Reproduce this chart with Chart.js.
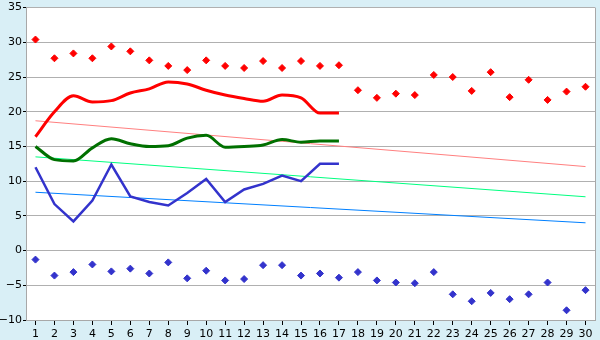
<!DOCTYPE html>
<html><head><meta charset="utf-8">
<script src="https://cdn.jsdelivr.net/npm/chart.js@4"></script>
<style>html,body{margin:0;padding:0;background:#d9eff6;}#c{display:block;}</style>
</head><body>
<canvas id="c" width="600" height="340"></canvas>
<script>
const days = ['1','2','3','4','5','6','7','8','9','10','11','12','13','14','15','16','17','18','19','20','21','22','23','24','25','26','27','28','29','30'];
const maxTemps = [30.4, 27.7, 28.4, 27.7, 29.4, 28.7, 27.4, 26.6, 26.0, 27.4, 26.6, 26.3, 27.3, 26.3, 27.3, 26.6, 26.7, 23.1, 22.0, 22.6, 22.4, 25.3, 25.0, 23.0, 25.7, 22.1, 24.6, 21.7, 22.9, 23.6];
const minTemps = [-1.3, -3.6, -3.1, -2.0, -3.0, -2.6, -3.3, -1.7, -4.0, -2.9, -4.3, -4.1, -2.1, -2.1, -3.6, -3.3, -3.9, -3.1, -4.3, -4.6, -4.7, -3.1, -6.3, -7.3, -6.1, -7.0, -6.3, -4.6, -8.6, -5.7];
const lineMax = [16.4, 20.0, 22.3, 21.4, 21.6, 22.7, 23.3, 24.3, 24.0, 23.1, 22.4, 21.9, 21.5, 22.4, 22.0, 19.8, 19.8];
const lineMean = [15.0, 13.1, 12.9, 14.8, 16.1, 15.4, 15.0, 15.1, 16.2, 16.6, 14.9, 15.0, 15.2, 16.0, 15.6, 15.8, 15.8];
const lineMin = [12.0, 6.7, 4.2, 7.2, 12.4, 7.8, 7.0, 6.5, 8.3, 10.3, 7.0, 8.8, 9.6, 10.8, 10.0, 12.5, 12.5];
const trendMax = [18.7, 12.1];
const trendMean = [13.5, 7.75];
const trendMin = [8.4, 4.0];
const yMin = -10, yMax = 35, yStep = 5;

const font = {family: 'DejaVu Sans', size: 11};

const bgPlugin = {
  id: 'bg',
  beforeDraw(chart) {
    const a = chart.chartArea, ctx = chart.ctx;
    ctx.save();
    ctx.fillStyle = '#ffffff';
    ctx.fillRect(a.left, a.top, a.right - a.left, a.bottom - a.top);
    ctx.restore();
  },
  afterDraw(chart) {
    const a = chart.chartArea, ctx = chart.ctx;
    ctx.save();
    ctx.strokeStyle = '#a8a8a8';
    ctx.lineWidth = 1;
    ctx.beginPath();
    ctx.moveTo(a.right + 0.5, a.top);
    ctx.lineTo(a.right + 0.5, a.bottom);
    ctx.stroke();
    ctx.restore();
  }
};

function trend(vals) {
  return [{x: days[0], y: vals[0]}, {x: days[days.length - 1], y: vals[1]}];
}

new Chart(document.getElementById('c'), {
  type: 'line',
  data: {
    labels: days,
    datasets: [
      {data: lineMax, borderColor: '#ff0000', borderWidth: 3, pointRadius: 0, cubicInterpolationMode: 'monotone', fill: false},
      {data: lineMean, borderColor: '#007000', borderWidth: 3, pointRadius: 0, cubicInterpolationMode: 'monotone', fill: false},
      {data: lineMin, borderColor: '#3333cc', borderWidth: 2.5, pointRadius: 0, tension: 0, fill: false},
      {data: maxTemps, showLine: false, pointStyle: 'rectRot', pointRadius: 3.5, backgroundColor: '#ff0000', borderColor: '#ff0000', borderWidth: 1},
      {data: minTemps, showLine: false, pointStyle: 'rectRot', pointRadius: 3.5, backgroundColor: '#3333cc', borderColor: '#3333cc', borderWidth: 1},
      {data: trend(trendMax), borderColor: '#ff8080', borderWidth: 1, pointRadius: 0, tension: 0},
      {data: trend(trendMean), borderColor: '#00ff80', borderWidth: 1, pointRadius: 0, tension: 0},
      {data: trend(trendMin), borderColor: '#0080ff', borderWidth: 1, pointRadius: 0, tension: 0}
    ]
  },
  options: {
    responsive: false,
    devicePixelRatio: 1,
    animation: false,
    layout: {padding: {top: 5, right: 5, left: 0, bottom: 0}},
    plugins: {legend: {display: false}, tooltip: {enabled: false}},
    scales: {
      x: {
        type: 'category',
        offset: true,
        grid: {drawOnChartArea: false, drawTicks: true, tickLength: 5, tickColor: '#000000'},
        border: {color: '#a8a8a8'},
        ticks: {color: '#000000', font: font, padding: 3, maxRotation: 0, autoSkip: false},
        afterFit(s) { s.height = 20; }
      },
      y: {
        min: yMin, max: yMax,
        grid: {color: '#b0b0b0', tickLength: 3, tickColor: '#000000'},
        border: {color: '#a8a8a8'},
        ticks: {stepSize: yStep, color: '#000000', font: font, padding: 1,
          callback: v => String(v).replace('-', '\u2212')},
        afterFit(s) { s.width = 26; }
      }
    }
  },
  plugins: [bgPlugin]
});
</script>
</body></html>
